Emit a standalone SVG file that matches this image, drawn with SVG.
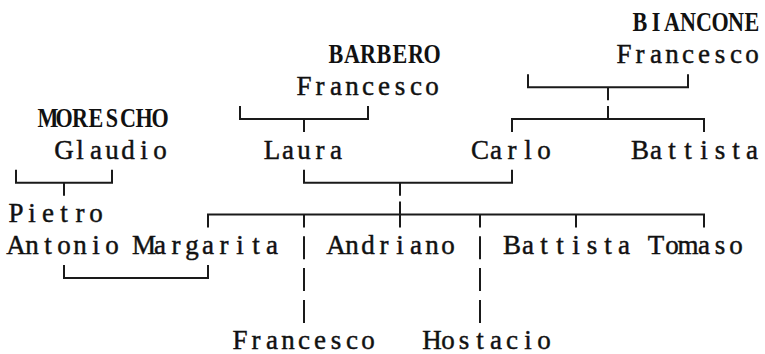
<svg xmlns="http://www.w3.org/2000/svg" width="765" height="354" viewBox="0 0 765 354">
<style>
.n{font-family:"Liberation Serif","DejaVu Serif",serif;font-size:27px;fill:#111;stroke:#111;stroke-width:0.45;text-anchor:middle}
.s{font-family:"Liberation Serif","DejaVu Serif",serif;font-size:27px;font-weight:bold;fill:#111;text-anchor:middle}
.c{fill:none;stroke:#1a1a1a;stroke-width:2;stroke-linecap:butt;stroke-linejoin:miter}
</style>
<rect width="765" height="354" fill="#fff"/>
<g id="connectors" class="c">
<path d="M528,74.3V87.3H688V74.3M608,87.3V100.3"/>
<path d="M608,106.1V119.1M512,132.1V119.1H704V132.1"/>
<path d="M240,106.1V119.1H368V106.1M304,119.1V132.1"/>
<path d="M16,169.7V182.7H112V169.7M64,182.7V195.7"/>
<path d="M304,169.7V182.7H512V169.7M400,182.7V195.7"/>
<path d="M400,201.5V227.5M208,227.5V214.5H704V227.5M304,214.5V227.5M480,214.5V227.5M576,214.5V227.5"/>
<path d="M304,236.3V259.3M304,268.1V291.1M304,299.9V322.9"/>
<path d="M480,236.3V259.3M480,268.1V291.1M480,299.9V322.9"/>
<path d="M64,265.1V278.1H208V265.1"/>
</g>
<g id="biancone-francesco">
<text class="s" transform="scale(0.82 1)" x="780.49 800 819.51 839.02 858.54 878.05 897.56 917.07" y="31.4">BIANCONE</text>
<text class="n" x="624 640 656 672 688 704 720 736 752" y="63.2">Francesco</text>
</g>
<g id="barbero-francesco">
<text class="s" transform="scale(0.82 1)" x="409.76 429.27 448.78 468.29 487.8 507.32 526.83" y="63.2">BARBERO</text>
<text class="n" x="304 320 336 352 368 384 400 416 432" y="95">Francesco</text>
</g>
<g id="moresco-glaudio">
<text class="s" transform="scale(0.82 1)" x="58.54 78.05 97.56 117.07 136.59 156.1 175.61 195.12" y="126.8">MORESCHO</text>
<text class="n" x="64 80 96 112 128 144 160" y="158.6">Glaudio</text>
</g>
<g id="laura">
<text class="n" x="272 288 304 320 336" y="158.6">Laura</text>
</g>
<g id="carlo">
<text class="n" x="480 496 512 528 544" y="158.6">Carlo</text>
</g>
<g id="battista-1">
<text class="n" x="640 656 672 688 704 720 736 752" y="158.6">Battista</text>
</g>
<g id="pietro-antonio">
<text class="n" x="16 32 48 64 80 96" y="222.2">Pietro</text>
<text class="n" x="16 32 48 64 80 96 112" y="254">Antonio</text>
</g>
<g id="margarita">
<text class="n" x="144 160 176 192 208 224 240 256 272" y="254">Margarita</text>
</g>
<g id="andriano">
<text class="n" x="336 352 368 384 400 416 432 448" y="254">Andriano</text>
</g>
<g id="battista-2">
<text class="n" x="512 528 544 560 576 592 608 624" y="254">Battista</text>
</g>
<g id="tomaso">
<text class="n" x="656 672 688 704 720 736" y="254">Tomaso</text>
</g>
<g id="francesco-3">
<text class="n" x="240 256 272 288 304 320 336 352 368" y="349.4">Francesco</text>
</g>
<g id="hostacio">
<text class="n" x="432 448 464 480 496 512 528 544" y="349.4">Hostacio</text>
</g>
</svg>
